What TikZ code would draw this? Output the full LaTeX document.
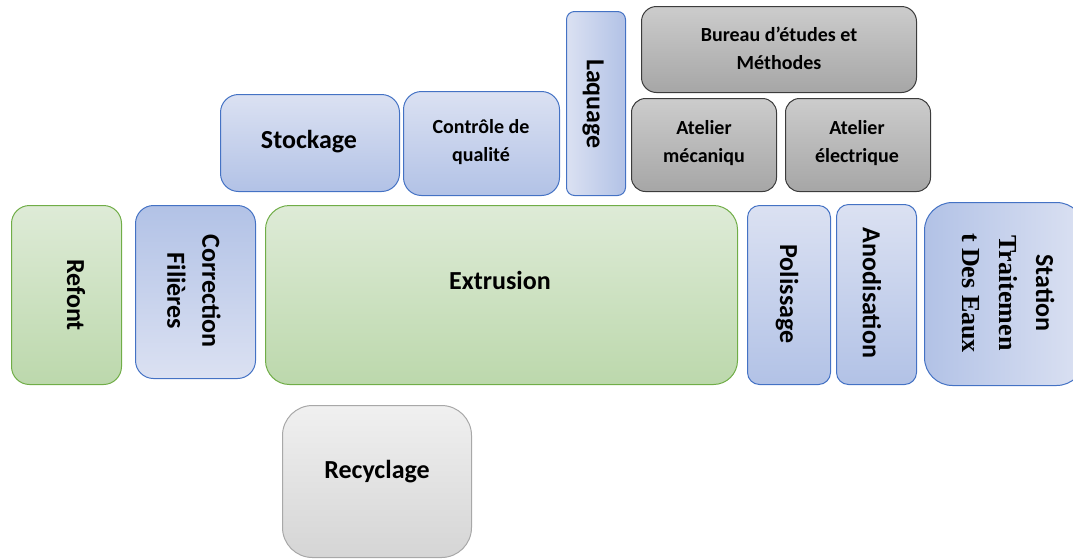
\documentclass[tikz,border=0pt]{standalone}
\usepackage{fontspec}
\setmainfont{Carlito}
\newfontfamily\timesbold{Liberation Serif}[BoldFont={* Bold}]
\definecolor{grnline}{RGB}{112,173,71}
\definecolor{grnlight}{RGB}{222,235,215}
\definecolor{grndark}{RGB}{188,216,172}
\definecolor{bluline}{RGB}{68,114,196}
\definecolor{blulight}{RGB}{219,225,242}
\definecolor{bludark}{RGB}{178,194,230}
\definecolor{gryline}{RGB}{60,60,60}
\definecolor{grytop}{RGB}{204,204,204}
\definecolor{grybot}{RGB}{166,166,166}
\definecolor{palline}{RGB}{168,168,168}
\definecolor{paltop}{RGB}{240,240,240}
\definecolor{palbot}{RGB}{213,213,213}
\begin{document}
\begin{tikzpicture}[x=1pt,y=-1pt,
  box/.style={draw, line width=1pt, anchor=north west, inner sep=0pt},
  greenbox/.style={box, draw=grnline, top color=grnlight, bottom color=grndark},
  bluedown/.style={box, draw=bluline, top color=blulight, bottom color=bludark},
  blueup/.style={box, draw=bluline, top color=bludark, bottom color=blulight},
  blueright/.style={box, draw=bluline, left color=blulight, right color=bludark},
  blueleft/.style={box, draw=bluline, left color=bludark, right color=blulight},
  graybox/.style={box, draw=gryline, top color=grytop, bottom color=grybot},
  palebox/.style={box, draw=palline, top color=paltop, bottom color=palbot},
  big/.style={font=\fontsize{26}{35}\selectfont\bfseries, align=center, inner sep=0pt},
  small/.style={font=\fontsize{20}{28}\selectfont\bfseries, align=center, inner sep=0pt},
  vert/.style={rotate=-90},
]
\clip (0,0) rectangle (1073,558);
\useasboundingbox (0,0) rectangle (1073,558);

% ground-floor row
\node[greenbox, rounded corners=18pt, minimum width=110pt, minimum height=179pt] (refont) at (11,205) {};
\node[big, vert] (refonttxt) at (76,295) {Refont};

\node[blueup, rounded corners=18pt, minimum width=120pt, minimum height=173pt] (correction) at (135,205) {};
\node[big, vert] (correctiontxt) at (194,291) {Correction\\Filières};

\node[greenbox, rounded corners=24pt, minimum width=472pt, minimum height=179pt] (extrusion) at (265,205) {};
\node[big] (extrusiontxt) at (500,280) {Extrusion};

\node[bluedown, rounded corners=12pt, minimum width=83pt, minimum height=179pt] (polissage) at (747,205) {};
\node[big, vert] (polissagetxt) at (787,294) {Polissage};

\node[bluedown, rounded corners=12pt, minimum width=80pt, minimum height=180pt] (anodisation) at (836,204) {};
\node[big, vert] (anodisationtxt) at (872,293) {Anodisation};

\node[blueleft, rounded corners=28pt, minimum width=160pt, minimum height=183pt] (station) at (924,202) {};
\node[big, vert, font=\fontsize{26}{37}\selectfont\bfseries] (stationtxt) at (1008,293)
  {Station\\{\timesbold\bfseries Traitemen}\\{\timesbold\bfseries t Des Eaux}};

% recycling below extrusion
\node[palebox, rounded corners=30pt, minimum width=189pt, minimum height=152pt] (recyclage) at (282,405) {};
\node[big] (recyclagetxt) at (377,472) {Recyclage};

% upper row
\node[bluedown, rounded corners=18pt, minimum width=179pt, minimum height=97pt] (stockage) at (220,94) {};
\node[big] (stockagetxt) at (309,142) {Stockage};

\node[bluedown, rounded corners=18pt, minimum width=156pt, minimum height=104pt] (controle) at (403,91) {};
\node[small] (controletxt) at (481,142) {Contrôle de\\qualité};

\node[blueright, rounded corners=8pt, minimum width=59pt, minimum height=184pt] (laquage) at (566,11) {};
\node[big, vert] (laquagetxt) at (593,104) {Laquage};

\node[graybox, rounded corners=15pt, minimum width=275pt, minimum height=86pt] (bureau) at (641,6) {};
\node[small] (bureautxt) at (779,48) {Bureau d’études et\\Méthodes};

\node[graybox, rounded corners=14pt, minimum width=145pt, minimum height=93pt] (mecanique) at (631,98) {};
\node[small] (mecaniquetxt) at (704,143) {Atelier\\mécaniqu};

\node[graybox, rounded corners=14pt, minimum width=145pt, minimum height=93pt] (electrique) at (785,98) {};
\node[small] (electriquetxt) at (857,143) {Atelier\\électrique};
\end{tikzpicture}
\end{document}
